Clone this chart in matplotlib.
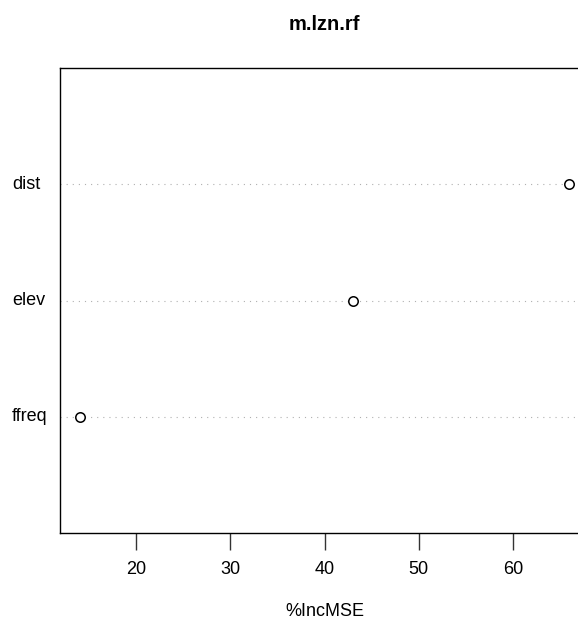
import matplotlib
matplotlib.use("Agg")
import matplotlib.pyplot as plt
from matplotlib.transforms import blended_transform_factory

# Variable importance (%IncMSE) from the random forest model
variables = ["ffreq", "elev", "dist"]
inc_mse = [14.0, 43.0, 66.0]
x_ticks = [20, 30, 40, 50, 60]

plt.rcParams["font.family"] = ["Liberation Sans", "DejaVu Sans"]

W, H = 578, 621
fig = plt.figure(figsize=(W / 100, H / 100), dpi=100)
left, right, top, bottom = 60, 589, 68, 533
ax = fig.add_axes([left / W, 1 - bottom / H, (right - left) / W, (bottom - top) / H])

ypos = list(range(1, len(variables) + 1))
for y in ypos:
    ax.axhline(y, color="#b0b0b0", linestyle=(0, (1, 4.5)), linewidth=0.8, zorder=1)
ax.plot(inc_mse, ypos, linestyle="none", marker="o", markersize=6.8,
        markerfacecolor="white", markeredgecolor="black", markeredgewidth=1.1, zorder=3)

span = max(inc_mse) - min(inc_mse)
ax.set_xlim(min(inc_mse) - 0.04 * span, max(inc_mse) + 0.04 * span)
ax.set_ylim(0, len(variables) + 1)

ax.set_xticks(x_ticks)
ax.set_xticklabels([str(t) for t in x_ticks], fontsize=13)
ax.tick_params(axis="x", direction="out", length=12, width=1, pad=8, color="#333333")
ax.set_yticks([])
for s in ax.spines.values():
    s.set_linewidth(1.0)

label_tf = blended_transform_factory(fig.transFigure, ax.transData)
for v, y in zip(variables, ypos):
    ax.text(12 / W, y, v, transform=label_tf, fontsize=13, ha="left", va="center")

fig.text((left + right) / 2 / W, 1 - 24 / H, "m.lzn.rf", ha="center", va="center",
         fontsize=14.5, fontweight="bold")
fig.text((left + right) / 2 / W, 1 - 611 / H, "%IncMSE", ha="center", va="center",
         fontsize=13)

fig.savefig("out.png", dpi=100)
